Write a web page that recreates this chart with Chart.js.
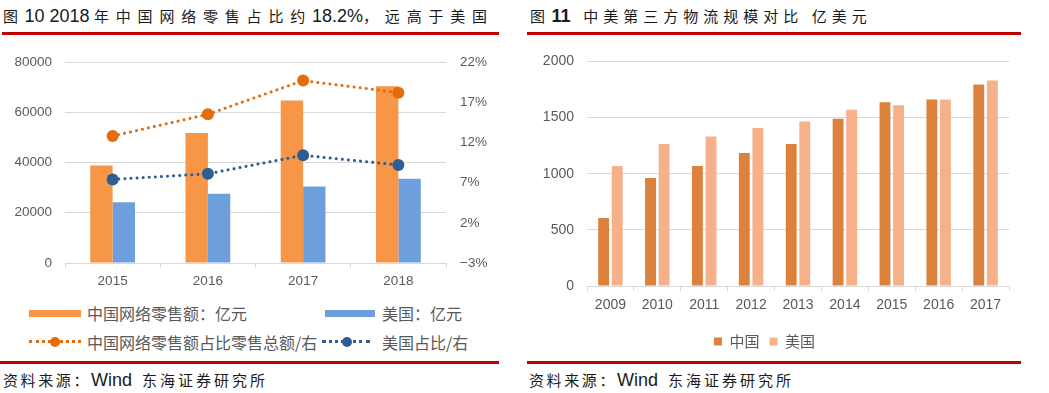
<!DOCTYPE html>
<html>
<head>
<meta charset="utf-8">
<script src="https://cdn.jsdelivr.net/npm/chart.js@4/dist/chart.umd.min.js"></script>
<style>
  body { margin: 0; width: 1049px; height: 393px; background: #fff; position: relative; overflow: hidden;
         font-family: "Liberation Sans", "Noto Sans CJK SC", sans-serif; }
  .abs { position: absolute; }
  .title { color: #1a1a1a; white-space: nowrap; line-height: 24px; }
  .cj { font-family: "Noto Sans CJK SC", sans-serif; font-size: 15px; }
  .num { font-size: 18px; }
  .red { background: #C00000; height: 3px; }
  .src { font-size: 18px; color: #1a1a1a; white-space: nowrap; line-height: 20px; }
  .lg { font-family: "Noto Sans CJK SC", sans-serif; font-size: 16px; color: #595959; white-space: nowrap; line-height: 20px; }
</style>
</head>
<body>
<!-- left panel -->
<div class="abs title" style="left:3px;top:4px;">
  <span class="cj" style="letter-spacing:2px">图</span>
  <span class="num">10 2018</span>
  <span class="cj" style="letter-spacing:6.8px">年中国网络零售占比约</span><span class="num">18.2%</span><span class="cj" style="letter-spacing:6.8px">，远高于美国</span>
</div>
<div class="abs red" style="left:2px;top:32px;width:497px;"></div>
<div class="abs" style="left:0;top:40px;width:500px;height:255px;"><canvas id="c1"></canvas></div>

<div class="abs" style="left:29px;top:310px;width:52px;height:7px;background:#F79646;"></div>
<div class="abs lg" style="left:87px;top:303px;">中国网络零售额：亿元</div>
<div class="abs" style="left:325px;top:310px;width:50px;height:7px;background:#6C9FDB;"></div>
<div class="abs lg" style="left:382px;top:303px;">美国：亿元</div>

<div class="abs" style="left:29px;top:340px;width:52px;border-top:3px dotted #E46C0A;"></div>
<div class="abs" style="left:50px;top:337px;width:10px;height:10px;border-radius:50%;background:#E46C0A;"></div>
<div class="abs lg" style="left:87px;top:332px;">中国网络零售额占比零售总额/右</div>
<div class="abs" style="left:322px;top:340px;width:48px;border-top:3px dotted #2E5D94;"></div>
<div class="abs" style="left:342px;top:337px;width:10px;height:10px;border-radius:50%;background:#2E5D94;"></div>
<div class="abs lg" style="left:382px;top:332px;">美国占比/右</div>

<div class="abs red" style="left:0;top:361px;width:499px;"></div>
<div class="abs src" style="left:3px;top:370px;"><span class="cj" style="letter-spacing:2.6px">资料来源：</span>Wind&nbsp; <span class="cj" style="letter-spacing:3px">东海证券研究所</span></div>

<!-- right panel -->
<div class="abs title" style="left:530px;top:4px;">
  <span class="cj" style="letter-spacing:2px">图</span>
  <span class="num" style="font-weight:bold">11</span>
  <span class="cj" style="letter-spacing:5px">&nbsp;中美第三方物流规模对比 亿美元</span>
</div>
<div class="abs red" style="left:527px;top:32px;width:494px;"></div>
<div class="abs" style="left:520px;top:40px;width:529px;height:319px;"><canvas id="c2"></canvas></div>
<div class="abs red" style="left:527px;top:361px;width:494px;"></div>
<div class="abs src" style="left:529px;top:370px;"><span class="cj" style="letter-spacing:2.6px">资料来源：</span>Wind&nbsp; <span class="cj" style="letter-spacing:3px">东海证券研究所</span></div>

<script>
// left chart data
var years1 = ['2015', '2016', '2017', '2018'];
var cnOnline = [38800, 51800, 64700, 70400];
var usOnline = [24200, 27600, 30500, 33500];
var cnShare = [12.8, 15.5, 19.7, 18.2];
var usShare = [7.4, 8.1, 10.4, 9.2];

// right chart data
var years2 = ['2009', '2010', '2011', '2012', '2013', '2014', '2015', '2016', '2017'];
var cn3pl = [605, 962, 1068, 1185, 1264, 1490, 1637, 1660, 1795];
var us3pl = [1068, 1264, 1332, 1408, 1464, 1569, 1610, 1660, 1830];

Chart.defaults.font.family = '"Liberation Sans", "Noto Sans CJK SC", sans-serif';
Chart.defaults.color = '#595959';
Chart.defaults.animation = false;

var grid = '#D9D9D9';
function plain(v) { return String(v); }

new Chart(document.getElementById('c1'), {
  type: 'bar',
  data: {
    labels: years1,
    datasets: [
      { type: 'line', label: '中国网络零售额占比零售总额/右', data: cnShare, yAxisID: 'y1', order: 1,
        borderColor: '#E46C0A', backgroundColor: '#E46C0A', borderWidth: 3, borderDash: [0.1, 6],
        borderCapStyle: 'round', pointRadius: 6, pointBorderWidth: 0, fill: false },
      { type: 'line', label: '美国占比/右', data: usShare, yAxisID: 'y1', order: 1,
        borderColor: '#2E5D94', backgroundColor: '#2E5D94', borderWidth: 3, borderDash: [0.1, 6],
        borderCapStyle: 'round', pointRadius: 6, pointBorderWidth: 0, fill: false },
      { label: '中国网络零售额：亿元', data: cnOnline, yAxisID: 'y', order: 2,
        backgroundColor: '#F79646', categoryPercentage: 0.47, barPercentage: 1 },
      { label: '美国：亿元', data: usOnline, yAxisID: 'y', order: 2,
        backgroundColor: '#6C9FDB', categoryPercentage: 0.47, barPercentage: 1 }
    ]
  },
  options: {
    responsive: true,
    maintainAspectRatio: false,
    layout: { padding: { top: 16, bottom: 0, left: 0, right: 0 } },
    plugins: { legend: { display: false }, tooltip: { enabled: false } },
    scales: {
      x: {
        grid: { drawOnChartArea: false, drawTicks: true, tickLength: 5, color: grid, offset: true },
        border: { color: grid },
        ticks: { font: { size: 13.5 }, padding: 5 },
        afterFit: function (s) { s.height = 32; }
      },
      y: {
        position: 'left', min: 0, max: 80000,
        ticks: { stepSize: 20000, font: { size: 13.5 }, padding: 13, callback: plain },
        grid: { color: grid, drawTicks: false },
        border: { display: false },
        afterFit: function (s) { s.width = 65; }
      },
      y1: {
        position: 'right', min: -3, max: 22,
        ticks: { stepSize: 5, font: { size: 13.5 }, padding: 14,
          callback: function (v) { return (v < 0 ? '\u2212' + Math.abs(v) : v) + '%'; } },
        grid: { drawOnChartArea: false, drawTicks: false },
        border: { display: false },
        afterFit: function (s) { s.width = 54; }
      }
    }
  }
});

new Chart(document.getElementById('c2'), {
  type: 'bar',
  data: {
    labels: years2,
    datasets: [
      { label: '中国', data: cn3pl, backgroundColor: '#DC823C', categoryPercentage: 0.58, barPercentage: 0.8 },
      { label: '美国', data: us3pl, backgroundColor: '#F6B08A', categoryPercentage: 0.58, barPercentage: 0.8 }
    ]
  },
  options: {
    responsive: true,
    maintainAspectRatio: false,
    layout: { padding: { top: 20, bottom: 0, left: 0, right: 40 } },
    plugins: {
      legend: { position: 'bottom',
        labels: { boxWidth: 8, boxHeight: 8, padding: 10, font: { size: 15, family: '"Noto Sans CJK SC", sans-serif' } } },
      tooltip: { enabled: false }
    },
    scales: {
      x: {
        grid: { drawOnChartArea: false, drawTicks: true, tickLength: 5, color: grid, offset: true },
        border: { color: grid },
        ticks: { font: { size: 14 }, padding: 6 },
        afterFit: function (s) { s.height = 38; }
      },
      y: {
        min: 0, max: 2000,
        ticks: { stepSize: 500, font: { size: 14 }, padding: 13, callback: plain },
        grid: { color: grid, drawTicks: false },
        border: { display: false },
        afterFit: function (s) { s.width = 67; }
      }
    }
  }
});
</script>
</body>
</html>
